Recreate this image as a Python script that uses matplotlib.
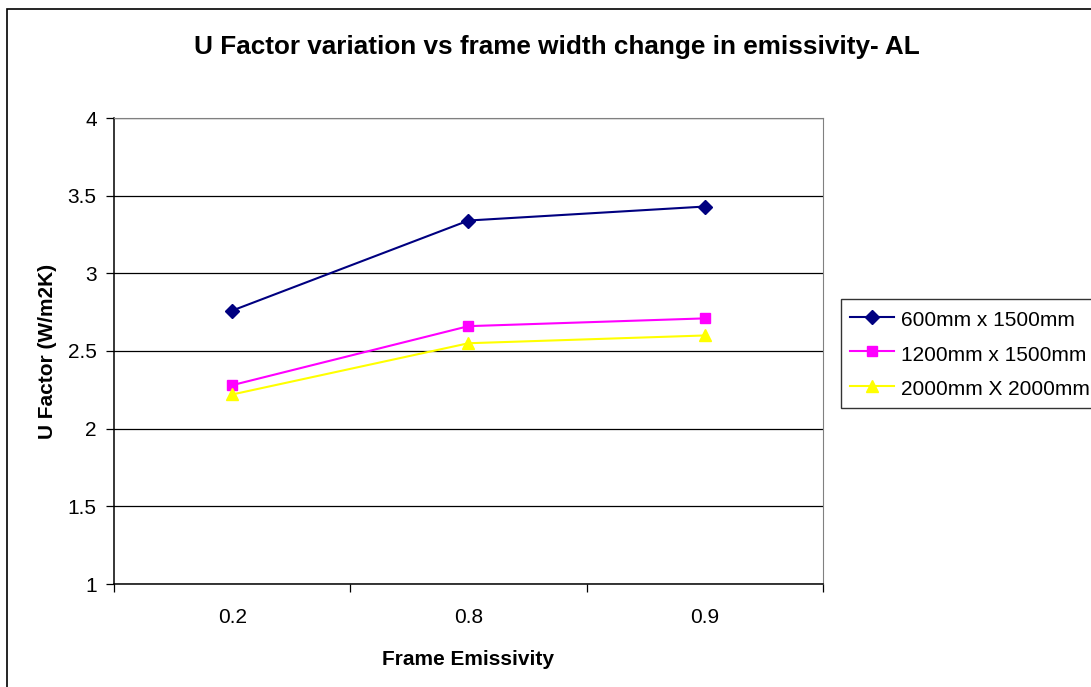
import numpy as np
import matplotlib.pyplot as plt
from matplotlib.patches import Rectangle

plt.rcParams['font.family'] = ['Liberation Sans', 'DejaVu Sans']

# data
emissivity = ['0.2', '0.8', '0.9']
u_600x1500 = [2.76, 3.34, 3.43]
u_1200x1500 = [2.28, 2.66, 2.71]
u_2000x2000 = [2.22, 2.55, 2.60]
series_names = ['600mm x 1500mm', '1200mm x 1500mm', '2000mm X 2000mm']
yticks = [1, 1.5, 2, 2.5, 3, 3.5, 4]

W, H = 1091, 687
fig = plt.figure(figsize=(W / 100, H / 100), dpi=100)
ax = fig.add_axes([114 / W, 1 - 584 / H, (823 - 114) / W, (584 - 118) / H])

# outer chart border (right and bottom edges fall outside the picture)
fig.patches.append(Rectangle((7 / W, -0.1), 1.2, 1 - 9 / H + 0.1,
                             transform=fig.transFigure, fill=False,
                             edgecolor='black', linewidth=1.2))

x = np.arange(len(emissivity))
ax.plot(x, u_600x1500, color='#000080', marker='D', markersize=7, linewidth=1.5,
        label=series_names[0])
ax.plot(x, u_1200x1500, color='#FF00FF', marker='s', markersize=6.5, linewidth=1.5,
        label=series_names[1])
ax.plot(x, u_2000x2000, color='#FFFF00', marker='^', markersize=8, linewidth=1.5,
        label=series_names[2])

ax.set_xlim(-0.5, len(emissivity) - 0.5)
ax.set_ylim(1, 4)
ax.set_yticks(yticks)
ax.set_yticklabels([f'{v:g}' for v in yticks], fontsize=15)
ax.yaxis.grid(True, color='black', linewidth=0.9)
ax.set_axisbelow(True)

# category axis: ticks between categories, labels at centres
ax.set_xticks(np.arange(-0.5, len(emissivity)))
ax.set_xticklabels([])
ax.set_xticks(x, minor=True)
ax.set_xticklabels(emissivity, minor=True, fontsize=15)
ax.tick_params(axis='x', which='major', direction='out', length=6, width=0.9)
ax.tick_params(axis='x', which='minor', length=0, pad=17)
ax.tick_params(axis='y', direction='out', length=6, width=0.9, pad=6.5)

for side in ['top', 'right']:
    ax.spines[side].set_color('#808080')
for side in ['left', 'bottom']:
    ax.spines[side].set_color('black')
    ax.spines[side].set_linewidth(1.1)

ax.set_xlabel('Frame Emissivity', fontsize=15, fontweight='bold', labelpad=17)
ax.set_ylabel('U Factor (W/m2K)', fontsize=15, fontweight='bold', labelpad=8)
fig.text(557 / W, 1 - 47 / H, 'U Factor variation vs frame width change in emissivity- AL',
         ha='center', va='center', fontsize=18.8, fontweight='bold')

leg = ax.legend(loc='upper left', bbox_to_anchor=(841 / W, 1 - 299 / H),
                bbox_transform=fig.transFigure, fontsize=15, frameon=True,
                fancybox=False, edgecolor='black', borderaxespad=0,
                handlelength=2.1, handletextpad=0.35, handleheight=1.25,
                labelspacing=0.58, borderpad=0.45)
leg.get_frame().set_linewidth(1.0)

fig.savefig('out.png', dpi=100)
